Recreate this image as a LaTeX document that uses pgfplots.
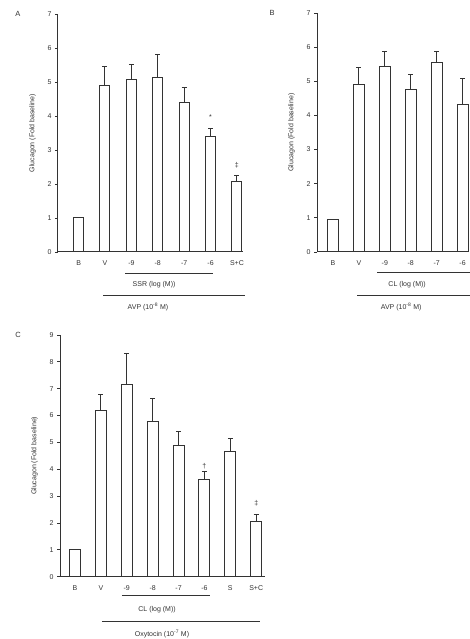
\documentclass[border=0pt]{standalone}
\usepackage{fontspec}
\setmainfont{Liberation Sans}
\usepackage{pgfplots}
\usepackage{pgfplotstable}
\pgfplotsset{compat=1.18}

\pgfplotstableread{
x y e
0 1.00 0
1 4.91 0.54
2 5.06 0.44
3 5.13 0.69
4 4.40 0.44
5 3.39 0.25
6 2.07 0.17
}\dataA
\pgfplotstableread{
x y e
0 0.94 0
1 4.90 0.51
2 5.43 0.44
3 4.75 0.44
4 5.56 0.31
5 4.33 0.76
}\dataB
\pgfplotstableread{
x y e
0 1.03 0
1 6.18 0.59
2 7.14 1.18
3 5.77 0.85
4 4.88 0.52
5 3.63 0.28
6 4.66 0.49
7 2.05 0.25
}\dataC

\colorlet{ink}{black!80}
\tikzset{lab/.style={font=\fontsize{7}{8}\selectfont, text=ink}}
\pgfplotsset{
  panel/.style={
    scale only axis, anchor=south west, clip=false,
    axis x line=bottom, axis y line=left,
    axis line style={-, line width=1pt, ink},
    ymin=0, ytick distance=1,
    xtick={0,...,7}, xtick style={draw=none},
    ytick style={line width=0.9pt, ink},
    tick align=outside, major tick length=3pt,
    tick label style={font=\fontsize{7}{8}\selectfont, text=ink},
    xticklabel style={yshift=-2pt},
    /pgf/number format/assume math mode=true,
    ylabel={Glucagon (Fold baseline)},
    ylabel style={font=\fontsize{7}{8}\selectfont, text=ink},
    ylabel shift=5pt,
  },
  bars/.style={ybar, mark=none, fill=white, draw=ink, line width=1pt,
    error bars/y dir=plus, error bars/y explicit,
    error bars/error bar style={line width=1pt, ink},
    error bars/error mark options={rotate=90, mark size=2.5pt, line width=1pt, ink}},
}

\begin{document}
\begin{tikzpicture}
\useasboundingbox (0,0) rectangle (469pt,639pt);

% Panel A
\begin{axis}[panel, at={(58pt,387pt)}, width=185pt, height=238pt,
  xmin=-0.78, xmax=6.23, ymax=7,
  xticklabels={B,V,-9,-8,-7,-6,S+C}]
\addplot[bars, bar width=10pt] table[x=x, y=y, y error=e] {\dataA};
\node[lab] at (axis cs:5,3.97) {*};
\node[lab] at (axis cs:6,2.56) {‡};
\draw[ink, line width=0.9pt] ([yshift=-21pt]axis cs:1.76,0) -- ([yshift=-21pt]axis cs:5.09,0);
\node[lab] at ([yshift=-33pt]axis cs:2.86,0) {SSR (log (M))};
\draw[ink, line width=0.9pt] ([yshift=-43pt]axis cs:0.93,0) -- ([yshift=-43pt]axis cs:6.3,0);
\node[lab] at ([yshift=-55pt]axis cs:2.63,0) {AVP (10\textsuperscript{-8} M)};
\node[lab, font=\fontsize{7.5}{8}\selectfont] at ([xshift=-40pt]rel axis cs:0,1) {A};
\end{axis}

% Panel B
\begin{axis}[panel, at={(317pt,387pt)}, width=152pt, height=239pt,
  xmin=-0.62, xmax=5.25, ymax=7,
  xticklabels={B,V,-9,-8,-7,-6}]
\addplot[bars, bar width=11pt] table[x=x, y=y, y error=e] {\dataB};
\draw[ink, line width=0.9pt] ([yshift=-20pt]axis cs:1.7,0) -- ([yshift=-20pt]axis cs:5.5,0);
\node[lab] at ([yshift=-33pt]axis cs:2.86,0) {CL (log (M))};
\draw[ink, line width=0.9pt] ([yshift=-43pt]axis cs:0.93,0) -- ([yshift=-43pt]axis cs:5.5,0);
\node[lab] at ([yshift=-55pt]axis cs:2.63,0) {AVP (10\textsuperscript{-8} M)};
\node[lab, font=\fontsize{7.5}{8}\selectfont] at ([xshift=-45pt]rel axis cs:0,1) {B};
\end{axis}

% Panel C
\begin{axis}[panel, at={(60pt,62.3pt)}, width=205pt, height=241.7pt,
  xmin=-0.58, xmax=7.34, ymax=9,
  xticklabels={B,V,-9,-8,-7,-6,S,S+C}]
\addplot[bars, bar width=11pt] table[x=x, y=y, y error=e] {\dataC};
\node[lab] at (axis cs:5,4.13) {†};
\node[lab] at (axis cs:7,2.73) {‡};
\draw[ink, line width=0.9pt] ([yshift=-19pt]axis cs:1.81,0) -- ([yshift=-19pt]axis cs:5.21,0);
\node[lab] at ([yshift=-33pt]axis cs:3.17,0) {CL (log (M))};
\draw[ink, line width=0.9pt] ([yshift=-45pt]axis cs:1.04,0) -- ([yshift=-45pt]axis cs:7.14,0);
\node[lab] at ([yshift=-57pt]axis cs:3.36,0) {Oxytocin (10\textsuperscript{-7} M)};
\node[lab, font=\fontsize{7.5}{8}\selectfont] at ([xshift=-42pt]rel axis cs:0,1) {C};
\end{axis}
\end{tikzpicture}
\end{document}
